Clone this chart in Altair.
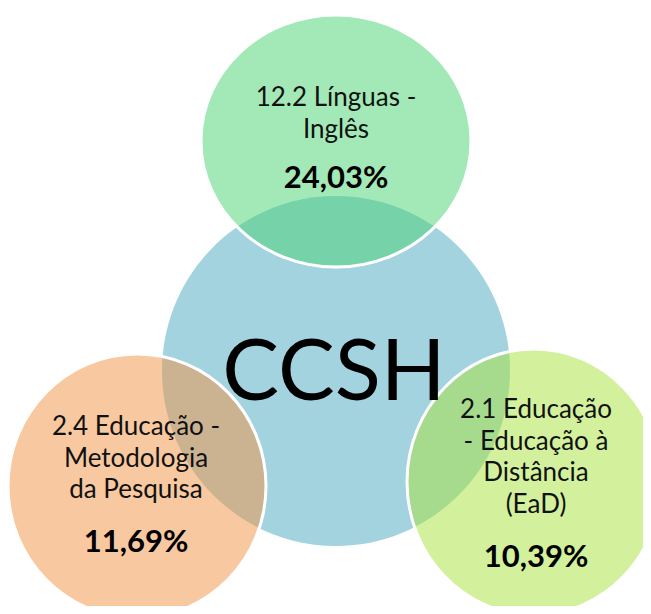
import altair as alt
import pandas as pd

# ---- chart content ----
center_label = "CCSH"
areas = [
    "12.2 Línguas - Inglês",
    "2.4 Educação - Metodologia da Pesquisa",
    "2.1 Educação - Educação à Distância (EaD)",
]
area_lines = [
    ["12.2 Línguas -", "Inglês"],
    ["2.4 Educação -", "Metodologia", "da Pesquisa"],
    ["2.1 Educação", "- Educação à", "Distância", "(EaD)"],
]
percentages = [24.03, 11.69, 10.39]

# ---- layout / style (pixel frame of the picture) ----
center_geom = dict(cx=336, cy=371, rx=174, ry=175, fill="#a4d3e0")
area_geom = [
    dict(cx=336, cy=141, rx=135, ry=126, fill="#47d371", text_x=336, line_y=106, pct_y=188),
    dict(cx=137, cy=486, rx=129, ry=132, fill="#f19341", text_x=136, line_y=435, pct_y=552),
    dict(cx=534, cy=482, rx=127, ry=133, fill="#a7e33b", text_x=536, line_y=418, pct_y=567),
]
LINE_H = 31.7
W, H = 635, 598
xs = alt.Scale(domain=[8, 8 + W], nice=False, zero=False)
ys = alt.Scale(domain=[8, 8 + H], nice=False, zero=False, reverse=True)


def ellipse(rx, ry):
    r = max(rx, ry)
    a, b = rx / r, ry / r
    path = f"M {-a:.4f} 0 A {a:.4f} {b:.4f} 0 1 1 {a:.4f} 0 A {a:.4f} {b:.4f} 0 1 1 {-a:.4f} 0 Z"
    return path, (2 * r) ** 2


cpath, csize = ellipse(center_geom["rx"], center_geom["ry"])
center_df = pd.DataFrame([dict(name=center_label, cx=center_geom["cx"], cy=center_geom["cy"],
                               size=csize, fill=center_geom["fill"], shape=cpath)])

rows = []
for name, g in zip(areas, area_geom):
    p, s = ellipse(g["rx"], g["ry"])
    rows.append(dict(name=name, cx=g["cx"], cy=g["cy"], size=s, fill=g["fill"], shape=p))
area_df = pd.DataFrame(rows)

line_rows = []
pct_rows = []
for name, lines, pct, g in zip(areas, area_lines, percentages, area_geom):
    for i, ln in enumerate(lines):
        line_rows.append(dict(name=name, text=ln, x=g["text_x"], y=g["line_y"] + i * LINE_H))
    pct_rows.append(dict(name=name, text=f"{pct:.2f}".replace(".", ",") + "%", x=g["text_x"], y=g["pct_y"]))
lines_df = pd.DataFrame(line_rows)
pct_df = pd.DataFrame(pct_rows)
title_df = pd.DataFrame([dict(text=center_label, x=334, y=400)])


def pos(xf, yf):
    return dict(x=alt.X(f"{xf}:Q", scale=xs, axis=None), y=alt.Y(f"{yf}:Q", scale=ys, axis=None))


center_layer = alt.Chart(center_df).mark_point(filled=True, opacity=1, fillOpacity=1, strokeWidth=0).encode(
    **pos("cx", "cy"),
    size=alt.Size("size:Q", scale=None, legend=None),
    fill=alt.Fill("fill:N", scale=None, legend=None),
    shape=alt.Shape("shape:N", scale=None, legend=None),
)

area_layer = alt.Chart(area_df).mark_point(
    filled=True, opacity=1, fillOpacity=0.5, stroke="white", strokeWidth=3, strokeOpacity=1
).encode(
    **pos("cx", "cy"),
    size=alt.Size("size:Q", scale=None, legend=None),
    fill=alt.Fill("fill:N", scale=None, legend=None),
    shape=alt.Shape("shape:N", scale=None, legend=None),
)

title_layer = alt.Chart(title_df).mark_text(
    font="Lato", fontSize=85, align="center", baseline="alphabetic", color="black"
).encode(**pos("x", "y"), text="text:N")

lines_layer = alt.Chart(lines_df).mark_text(
    font="Lato", fontSize=26, align="center", baseline="alphabetic", color="#111111"
).encode(**pos("x", "y"), text="text:N")

pct_layer = alt.Chart(pct_df).mark_text(
    font="Lato", fontSize=31, fontWeight="bold", align="center", baseline="alphabetic", color="black"
).encode(**pos("x", "y"), text="text:N")

chart = alt.layer(center_layer, area_layer, title_layer, lines_layer, pct_layer).properties(
    width=W, height=H, autosize=alt.AutoSizeParams(type="none"), padding=0
).configure_view(stroke=None)

chart.save("out.html", embed_options={"renderer": "svg", "actions": False})
